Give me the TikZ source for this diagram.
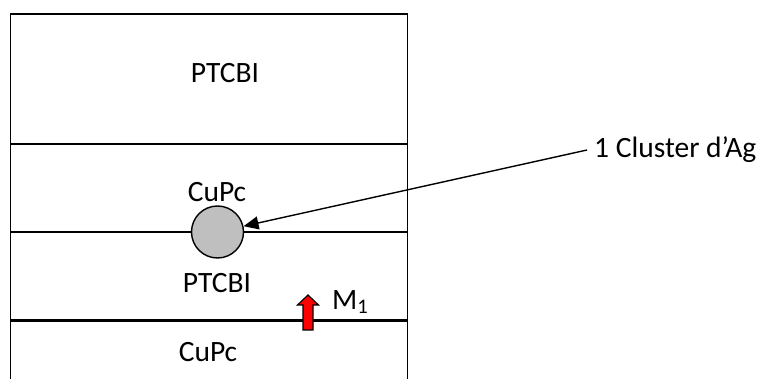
\documentclass[tikz,border=0pt]{standalone}
\usepackage{fontspec}
\setmainfont{Carlito}
\usetikzlibrary{arrows.meta}
\begin{document}
\begin{tikzpicture}[x=1pt,y=-1pt,
  layerline/.style={line width=1.5pt,line cap=rect},
  interface/.style={line width=2.6pt},
  lbl/.style={font=\fontsize{29.5}{34}\selectfont,inner sep=0pt},
  cluster/.style={circle,draw,line width=1.4pt,fill=black!25,minimum size=52,inner sep=0pt},
  pointer/.style={line width=1.4pt,-{Triangle[length=15pt,width=13pt]}},
  dipole/.style={draw,line width=1.2pt,fill=red}]
\useasboundingbox (0,0) rectangle (764,379);
% stack outline and layer boundaries
\draw[layerline] (10.5,379) -- (10.5,14) -- (407.5,14) -- (407.5,379);
\draw[layerline] (10.5,144) -- (407.5,144);
\draw[layerline] (10.5,232) -- (407.5,232);
\draw[interface] (10.5,320.5) -- (407.5,320.5);
% layer names
\node[lbl] (ptcbitop) at (225,73) {PTCBI};
\node[lbl] (cupcmid) at (217,192) {CuPc};
\node[lbl] (ptcbimid) at (217,283) {PTCBI};
\node[lbl] (cupcbot) at (208,352) {CuPc};
% silver cluster at the interface
\node[cluster] (cl) at (217.5,232) {};
\node[lbl,anchor=west,inner xsep=7pt] (cllbl) at (587,150) {1 Cluster d’Ag};
\draw[pointer] (cllbl.west) -- (cl);
% dipole arrow
\draw[dipole] (303,330) -- (303,305) -- (297.5,305) -- (308,295) -- (318.5,305) -- (313,305) -- (313,330) -- cycle;
\node[lbl,anchor=west] (m1) at (332,302) {M\textsubscript{1}};
\end{tikzpicture}
\end{document}
